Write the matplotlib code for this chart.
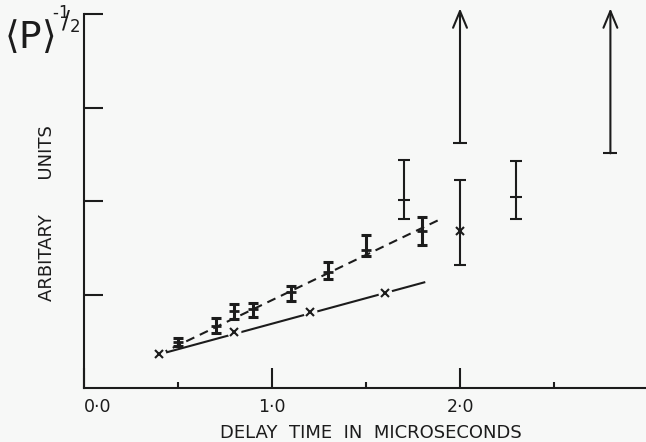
import matplotlib
matplotlib.use('Agg')
import matplotlib.pyplot as plt

plt.rcParams['font.family'] = ['DejaVu Sans']
plt.rcParams['mathtext.fontset'] = 'dejavusans'

W, H = 646, 442
BG = '#f7f8f7'
INK = '#1c1c1c'

# ---- data ----
bar_x = [0.5, 0.7, 0.8, 0.9, 1.1, 1.3, 1.5, 1.8]
bar_y = [0.49, 0.66, 0.82, 0.84, 1.03, 1.24, 1.48, 1.68]
bar_lo = [0.45, 0.59, 0.74, 0.76, 0.93, 1.17, 1.41, 1.53]
bar_hi = [0.53, 0.75, 0.90, 0.91, 1.09, 1.35, 1.64, 1.83]

iso_x = [1.7, 2.3]
iso_y = [2.01, 2.04]
iso_lo = [1.81, 1.81]
iso_hi = [2.44, 2.43]

cross_x = [0.4, 0.8, 1.2, 1.6, 2.0]
cross_y = [0.36, 0.60, 0.81, 1.02, 1.68]
cross_err_x = [2.0]
cross_err_lo = [1.32]
cross_err_hi = [2.22]

arrow_x = [2.0, 2.8]
arrow_lo = [2.62, 2.51]
arrow_hi = [4.06, 4.06]

dash_x = [0.40, 1.89]
dash_y = [0.36, 1.80]
solid_x = [0.40, 1.81]
solid_y = [0.36, 1.13]

xticks = [0.0, 1.0, 2.0]
xtick_labels = ['0\u00b70', '1\u00b70', '2\u00b70']
xminor = [0.5, 1.5, 2.5]
yticks = [1, 2, 3, 4]

# ---- figure ----
fig = plt.figure(figsize=(W / 100, H / 100), dpi=100, facecolor=BG)
x0, y_axis, y_top, x_right = 84, 388, 14, 646
ax = fig.add_axes([x0 / W, (H - y_axis) / H, (x_right - x0) / W, (y_axis - y_top) / H])
ax.set_facecolor(BG)
ax.set_xlim(0, (x_right - x0) / 188.0)
ax.set_ylim(0, 4.0)

for s in ['top', 'right']:
    ax.spines[s].set_visible(False)
for s in ['left', 'bottom']:
    ax.spines[s].set_linewidth(1.5)
    ax.spines[s].set_color(INK)

ax.set_xticks(xticks)
ax.set_xticklabels(xtick_labels, fontsize=12.5, color=INK)
ax.set_xticks(xminor, minor=True)
ax.set_yticks(yticks)
ax.set_yticklabels([])
ax.tick_params(axis='x', which='major', direction='in', length=14.4, width=1.5, pad=7, colors=INK)
ax.tick_params(axis='x', which='minor', direction='in', length=4.3, width=1.5, colors=INK)
ax.tick_params(axis='y', which='major', direction='in', length=13.5, width=1.5, colors=INK)
ax.get_xticklabels()[0].set_ha('left')

lw = 1.5
# lines
ax.plot(dash_x, dash_y, color=INK, lw=lw, dashes=(4.3, 2.9), zorder=2)
ax.plot(solid_x, solid_y, color=INK, lw=lw, zorder=2)
# white gaps around crosses
ax.plot(cross_x[:4], cross_y[:4], ls='none', marker='o', ms=10, mfc=BG, mec='none', zorder=3)
ax.plot(cross_x, cross_y, ls='none', marker='x', ms=5.5, mew=1.5, color=INK, zorder=4)

# small error bars on dashed line
ax.errorbar(bar_x, bar_y,
            yerr=[[y - l for y, l in zip(bar_y, bar_lo)], [h - y for y, h in zip(bar_y, bar_hi)]],
            fmt='none', ecolor=INK, elinewidth=2.2, capsize=3.4, capthick=2.2, zorder=5)
ax.plot(bar_x, bar_y, ls='none', marker='_', ms=7, mew=2, color=INK, zorder=5)

# isolated tall bars
ax.errorbar(iso_x, iso_y,
            yerr=[[y - l for y, l in zip(iso_y, iso_lo)], [h - y for y, h in zip(iso_y, iso_hi)]],
            fmt='none', ecolor=INK, elinewidth=lw, capsize=4.6, capthick=lw, zorder=5)
ax.plot(iso_x, iso_y, ls='none', marker='_', ms=9, mew=lw, color=INK, zorder=5)

# bar through the cross at 2.0
cy = [cross_y[cross_x.index(v)] for v in cross_err_x]
ax.errorbar(cross_err_x, cy,
            yerr=[[y - l for y, l in zip(cy, cross_err_lo)], [h - y for y, h in zip(cy, cross_err_hi)]],
            fmt='none', ecolor=INK, elinewidth=lw, capsize=4.6, capthick=lw, zorder=5)

# arrows (lower limits)
for xa, lo, hi in zip(arrow_x, arrow_lo, arrow_hi):
    ax.annotate('', xy=(xa, hi), xytext=(xa, lo), annotation_clip=False,
                arrowprops=dict(arrowstyle='->,head_length=0.6,head_width=0.25',
                                lw=lw, color=INK, mutation_scale=20, shrinkA=0, shrinkB=0))
ax.plot(arrow_x, arrow_lo, ls='none', marker='_', ms=10, mew=lw, color=INK, zorder=5)

# labels
fig.text(371 / W, 1 - 433 / H, 'DELAY  TIME  IN  MICROSECONDS', fontsize=13, color=INK,
         ha='center', va='center')
fig.text(47 / W, 1 - 213 / H, 'ARBITARY      UNITS', fontsize=13, color=INK,
         ha='center', va='center', rotation=90)
fig.text(4 / W, 1 - 37 / H, r'$\langle$P$\rangle$', fontsize=27, color=INK,
         ha='left', va='center')
fig.text(52 / W, 1 - 20 / H, r'${}^{\text{-}1}\!\!/_{2}$', fontsize=17, color=INK,
         ha='left', va='center')

fig.savefig('out.png', dpi=100, facecolor=BG)
